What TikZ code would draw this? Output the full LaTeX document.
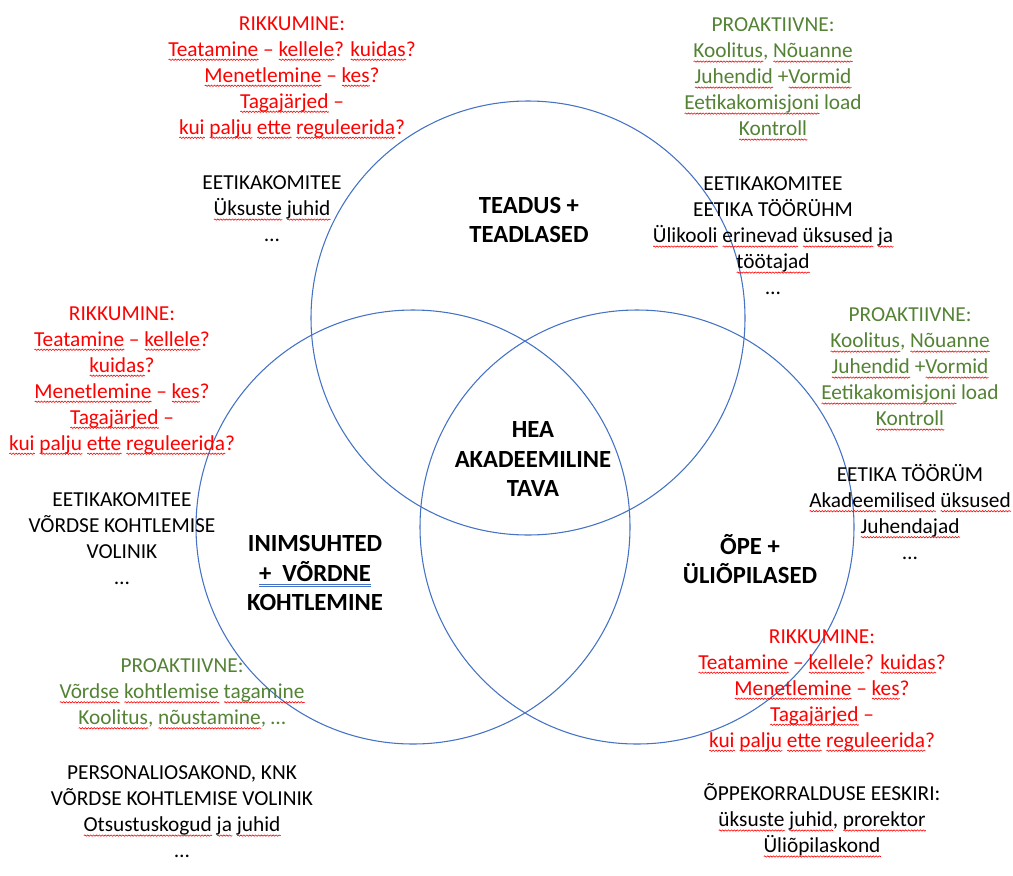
\documentclass[tikz,border=0pt]{standalone}
\usepackage{fontspec}
\setmainfont{Carlito}
\usetikzlibrary{decorations.pathmorphing}
\definecolor{ringblue}{HTML}{4472C4}
\definecolor{leafgreen}{HTML}{548235}
\definecolor{wavered}{HTML}{FF0000}
\newsavebox\splbox
\newcommand\spl[1]{\sbox\splbox{#1}\leavevmode\rlap{\smash{\tikz[baseline=0pt]\draw[wavered,line width=0.45pt,decorate,decoration={snake,segment length=2.2pt,amplitude=0.5pt}] (0pt,-2.8pt) -- (\wd\splbox,-2.8pt);}}\usebox\splbox}
\newcommand\gram[1]{\sbox\splbox{#1}\leavevmode\rlap{\smash{\tikz[baseline=0pt]\draw[ringblue,line width=0.4pt] (0pt,-2.6pt) -- (\wd\splbox,-2.6pt) (0pt,-3.8pt) -- (\wd\splbox,-3.8pt);}}\usebox\splbox}

\begin{document}
\begin{tikzpicture}[x=0.75pt,y=-0.75pt,
    ring/.style={ringblue,line width=0.8pt},
    txt/.style={align=center,inner sep=0pt,font=\fontsize{16}{19.5}\selectfont},
    redtxt/.style={txt,text=wavered},
    greentxt/.style={txt,text=leafgreen},
    blacktxt/.style={txt,text=black},
    title/.style={txt,font=\fontsize{18.5}{22}\selectfont\bfseries}]
    \useasboundingbox (0,0) rectangle (1013,875);
    \draw[ring] (528,318) circle[radius=162.75pt];
    \draw[ring] (413,527) circle[radius=162.75pt];
    \draw[ring] (637,527) circle[radius=162.75pt];

    \node[title] (science) at (529,220) {TEADUS +\\ TEADLASED};
    \node[title] (core) at (533,459) {HEA\\ AKADEEMILINE\\ TAVA};
    \node[title] (people) at (315,573) {INIMSUHTED\\ \gram{+\ \ VÕRDNE}\\ KOHTLEMINE};
    \node[title] (study) at (750,559) {ÕPE +\\ ÜLIÕPILASED};

    \node[redtxt] (breachA) at (292,77) {RIKKUMINE:\\ \spl{Teatamine} – \spl{kellele}? \spl{kuidas}?\\ \spl{Menetlemine} – \spl{kes}?\\ \spl{Tagajärjed} –\\ \spl{kui} \spl{palju} \spl{ette} \spl{reguleerida}?};
    \node[blacktxt] (bodyA) at (272,209) {EETIKAKOMITEE\\ \spl{Üksuste} \spl{juhid}\\ …};
    \node[greentxt] (proA) at (773,77) {PROAKTIIVNE:\\ \spl{Koolitus}, \spl{Nõuanne}\\ \spl{Juhendid} +\spl{Vormid}\\ \spl{Eetikakomisjoni} load\\ \spl{Kontroll}};
    \node[blacktxt] (bodyB) at (773,236) {EETIKAKOMITEE\\ EETIKA TÖÖRÜHM\\ \spl{Ülikooli} \spl{erinevad} \spl{üksused} \spl{ja}\\ \spl{töötajad}\\ …};

    \node[redtxt] (breachB) at (122,380) {RIKKUMINE:\\ \spl{Teatamine} – \spl{kellele}?\\ \spl{kuidas}?\\ \spl{Menetlemine} – \spl{kes}?\\ \spl{Tagajärjed} –\\ \spl{kui} \spl{palju} \spl{ette} \spl{reguleerida}?};
    \node[blacktxt] (bodyC) at (122,539) {EETIKAKOMITEE\\ VÕRDSE KOHTLEMISE\\ VOLINIK\\ …};
    \node[greentxt] (proB) at (910,367) {PROAKTIIVNE:\\ \spl{Koolitus}, \spl{Nõuanne}\\ \spl{Juhendid} +\spl{Vormid}\\ \spl{Eetikakomisjoni} load\\ \spl{Kontroll}};
    \node[blacktxt] (bodyD) at (910,512) {EETIKA TÖÖRÜM\\ \spl{Akadeemilised} \spl{üksused}\\ \spl{Juhendajad}\\ …};

    \node[greentxt] (proC) at (182,693) {PROAKTIIVNE:\\ \spl{Võrdse} \spl{kohtlemise} \spl{tagamine}\\ \spl{Koolitus}, \spl{nõustamine}, …};
    \node[blacktxt] (bodyE) at (182,812) {PERSONALIOSAKOND, KNK\\ VÕRDSE KOHTLEMISE VOLINIK\\ \spl{Otsustuskogud} \spl{ja} \spl{juhid}\\ …};
    \node[redtxt] (breachC) at (822,690) {RIKKUMINE:\\ \spl{Teatamine} – \spl{kellele}? \spl{kuidas}?\\ \spl{Menetlemine} – \spl{kes}?\\ \spl{Tagajärjed} –\\ \spl{kui} \spl{palju} \spl{ette} \spl{reguleerida}?};
    \node[blacktxt] (bodyF) at (822,820) {ÕPPEKORRALDUSE EESKIRI:\\ \spl{üksuste} \spl{juhid}, \spl{prorektor}\\ \spl{Üliõpilaskond}};
\end{tikzpicture}
\end{document}
